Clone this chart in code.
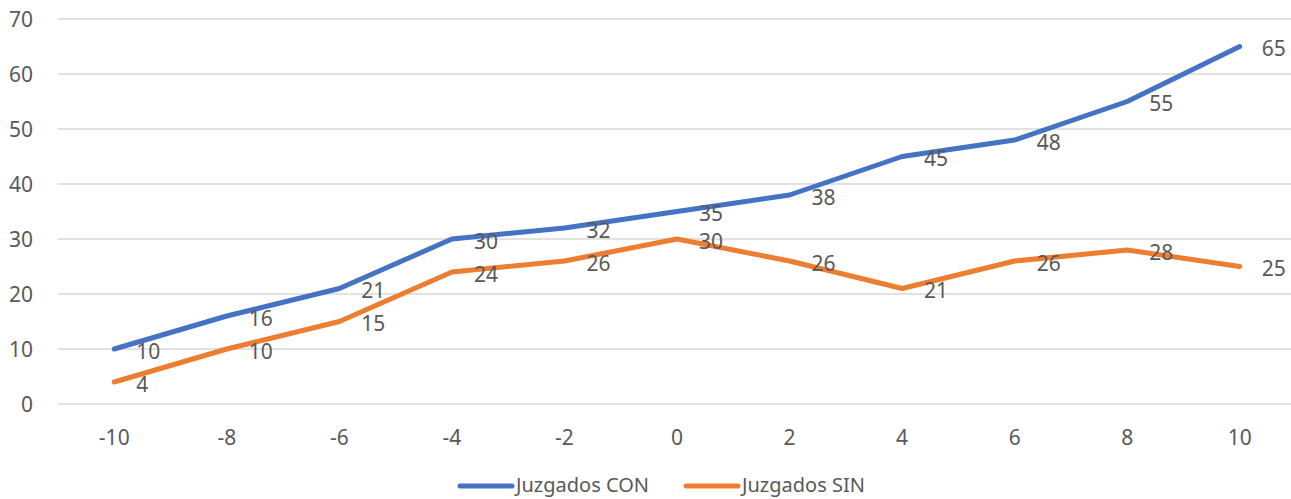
<!DOCTYPE html>
<html>
<head>
<meta charset="utf-8">
<script src="https://cdn.jsdelivr.net/npm/d3@7"></script>
<style>
  body { margin: 0; background: #fff; }
  text { font-family: 'Noto Sans', 'Open Sans', sans-serif; fill: #595959; }
</style>
</head>
<body>
<div id="chart"></div>
<script>
const categories = [-10, -8, -6, -4, -2, 0, 2, 4, 6, 8, 10];
const conValues = [10, 16, 21, 30, 32, 35, 38, 45, 48, 55, 65];
const sinValues = [4, 10, 15, 24, 26, 30, 26, 21, 26, 28, 25];
const yTicks = [0, 10, 20, 30, 40, 50, 60, 70];

const series = [
  { name: 'Juzgados CON', values: conValues, color: '#4472C4' },
  { name: 'Juzgados SIN', values: sinValues, color: '#ED7D31' }
];

const width = 1291;
const height = 499;
const margin = { top: 19, right: -5, bottom: 95, left: 58 };

const svg = d3
  .select('#chart')
  .append('svg')
  .attr('width', width)
  .attr('height', height);

const x = d3
  .scaleBand()
  .domain(categories)
  .range([margin.left, width - margin.right]);

const y = d3
  .scaleLinear()
  .domain([0, 70])
  .range([height - margin.bottom, margin.top]);

const cx = d => x(d) + x.bandwidth() / 2;

// gridlines
svg
  .append('g')
  .selectAll('line')
  .data(yTicks)
  .enter()
  .append('line')
  .attr('x1', margin.left)
  .attr('x2', width - margin.right)
  .attr('y1', d => y(d))
  .attr('y2', d => y(d))
  .attr('stroke', '#d9d9d9')
  .attr('stroke-width', 1.5);

// y labels
svg
  .append('g')
  .selectAll('text')
  .data(yTicks)
  .enter()
  .append('text')
  .attr('x', 33)
  .attr('y', d => y(d))
  .attr('dy', '0.36em')
  .attr('text-anchor', 'end')
  .attr('font-size', 21)
  .text(d => d);

// x labels
svg
  .append('g')
  .selectAll('text')
  .data(categories)
  .enter()
  .append('text')
  .attr('x', d => cx(d))
  .attr('y', 437)
  .attr('dy', '0.36em')
  .attr('text-anchor', 'middle')
  .attr('font-size', 21)
  .text(d => d);

const line = d3
  .line()
  .x((d, i) => cx(categories[i]))
  .y(d => y(d));

series.forEach(s => {
  svg
    .append('path')
    .datum(s.values)
    .attr('fill', 'none')
    .attr('stroke', s.color)
    .attr('stroke-width', 5)
    .attr('stroke-linejoin', 'round')
    .attr('stroke-linecap', 'round')
    .attr('d', line);
});

series.forEach(s => {
  svg
    .append('g')
    .selectAll('text')
    .data(s.values)
    .enter()
    .append('text')
    .attr('x', (d, i) => cx(categories[i]) + 22)
    .attr('y', d => y(d) + 2)
    .attr('dy', '0.36em')
    .attr('font-size', 21)
    .text(d => d);
});

// legend
const legendX = [458, 684];
const legend = svg
  .append('g')
  .selectAll('g')
  .data(series)
  .enter()
  .append('g')
  .attr('transform', (d, i) => `translate(${legendX[i]},486)`);

legend
  .append('line')
  .attr('x1', 2)
  .attr('x2', 54)
  .attr('stroke', d => d.color)
  .attr('stroke-width', 5)
  .attr('stroke-linecap', 'round');

legend
  .append('text')
  .attr('x', 58)
  .attr('dy', '0.3em')
  .attr('font-size', 20)
  .text(d => d.name);
</script>
</body>
</html>
